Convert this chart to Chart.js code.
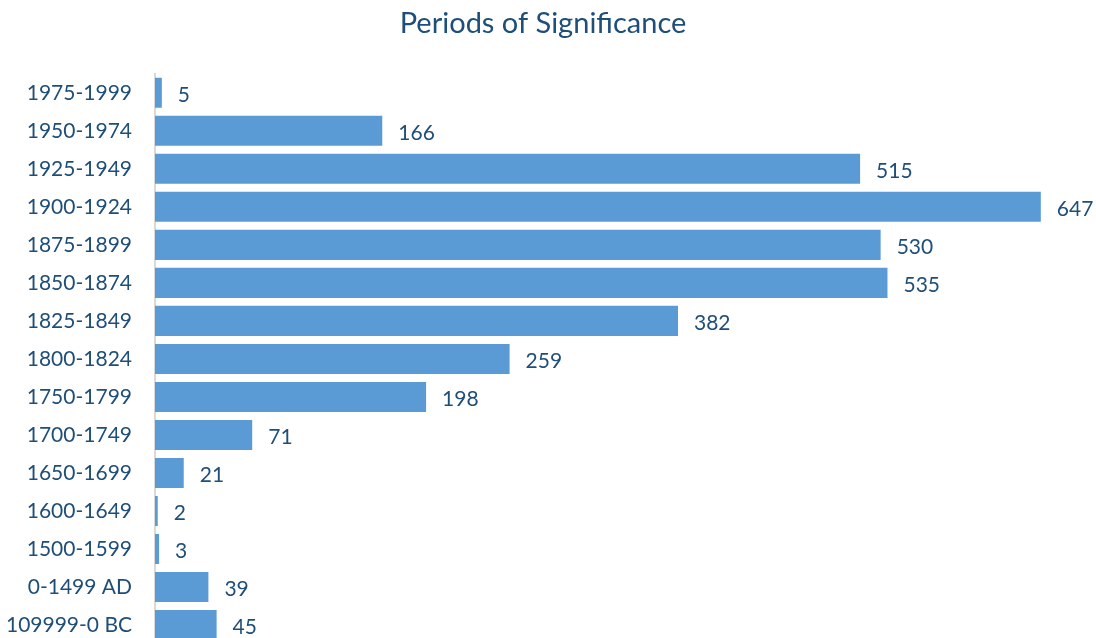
<!DOCTYPE html>
<html>
<head>
<meta charset="utf-8">
<script src="https://cdn.jsdelivr.net/npm/chart.js@4/dist/chart.umd.min.js"></script>
<style>
html,body{margin:0;padding:0;background:#fff;overflow:hidden;width:1096px;height:638px;}
#c{display:block;}
</style>
</head>
<body>
<canvas id="c" width="1096" height="644" style="width:1096px;height:644px;"></canvas>
<script>
const categories = ["1975-1999","1950-1974","1925-1949","1900-1924","1875-1899","1850-1874","1825-1849","1800-1824","1750-1799","1700-1749","1650-1699","1600-1649","1500-1599","0-1499 AD","109999-0 BC"];
const values = [5,166,515,647,530,535,382,259,198,71,21,2,3,39,45];
const titleText = "Periods of Significance";

const textColor = "#1F4E79";
const fontFamily = "Lato, 'Open Sans', sans-serif";

const valueLabels = {
  id: "valueLabels",
  afterDatasetsDraw(chart) {
    const ctx = chart.ctx;
    const meta = chart.getDatasetMeta(0);
    ctx.save();
    ctx.font = "21px " + fontFamily;
    ctx.fillStyle = textColor;
    ctx.textAlign = "left";
    ctx.textBaseline = "middle";
    meta.data.forEach((el, i) => {
      ctx.fillText(String(values[i]), el.x + 16, el.y + 2);
    });
    ctx.restore();
  }
};

new Chart(document.getElementById("c"), {
  type: "bar",
  data: {
    labels: categories,
    datasets: [{
      data: values,
      backgroundColor: "#5B9BD5",
      borderWidth: 0,
      categoryPercentage: 1,
      barPercentage: 0.79
    }]
  },
  options: {
    indexAxis: "y",
    responsive: false,
    maintainAspectRatio: false,
    devicePixelRatio: 1,
    animation: false,
    layout: { padding: { left: 0, right: 10, top: 0, bottom: 0 } },
    plugins: {
      legend: { display: false },
      tooltip: { enabled: false },
      title: {
        display: true,
        text: titleText,
        color: textColor,
        font: { family: fontFamily, size: 29, weight: "normal" },
        padding: { top: 6, bottom: 33 }
      }
    },
    scales: {
      x: {
        display: false,
        min: 0,
        max: 680
      },
      y: {
        afterFit(scale) {
          scale.width = 155;
          scale.paddingTop = 0;
          scale.paddingBottom = 0;
        },
        grid: { display: false, drawTicks: false },
        border: { display: true, color: "#D9D9D9", width: 2 },
        ticks: {
          color: textColor,
          padding: 23,
          font: { family: fontFamily, size: 21 }
        }
      }
    }
  },
  plugins: [valueLabels]
});
</script>
</body>
</html>
